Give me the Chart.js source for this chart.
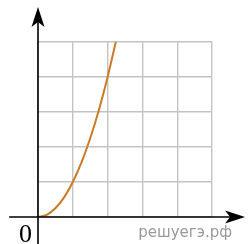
<!DOCTYPE html>
<html>
<head>
<meta charset="utf-8">
<script src="https://cdn.jsdelivr.net/npm/chart.js@4/dist/chart.umd.min.js"></script>
<style>
  html, body { margin: 0; padding: 0; background: #fff; }
  #wrap { width: 248px; height: 244px; position: relative; }
</style>
</head>
<body>
<div id="wrap"><canvas id="graph"></canvas></div>
<script>
// values (grid units)
const xValues = [0, 0.25, 0.5, 0.75, 1, 1.25, 1.5, 1.75, 2, 2.236];
const yValues = [0, 0.06, 0.25, 0.56, 1, 1.56, 2.25, 3.06, 4, 5];
const gridMax = 5;
const originLabel = '0';
const watermark = 'решуегэ.рф';

const points = xValues.map((x, i) => ({ x: x, y: yValues[i] }));

// axes with arrows + labels, positioned through the chart scales
const axesPlugin = {
    id: 'axes',
    afterDatasetsDraw(chart) {
        const ctx = chart.ctx;
        const xs = chart.scales.x, ys = chart.scales.y;
        const ox = xs.getPixelForValue(0), oy = ys.getPixelForValue(0);
        const xLeft = xs.getPixelForValue(-0.83), xTip = xs.getPixelForValue(5.95);
        const yBottom = ys.getPixelForValue(-0.8), yTip = ys.getPixelForValue(6.0);

        ctx.save();
        ctx.strokeStyle = '#000';
        ctx.fillStyle = '#000';
        ctx.lineWidth = 1.6;
        ctx.beginPath();
        ctx.moveTo(xLeft, oy); ctx.lineTo(xTip - 6, oy);
        ctx.moveTo(ox, yBottom); ctx.lineTo(ox, yTip + 6);
        ctx.stroke();

        // arrow heads
        ctx.beginPath();
        ctx.moveTo(xTip, oy);
        ctx.lineTo(xTip - 20, oy - 6.5);
        ctx.lineTo(xTip - 15, oy);
        ctx.lineTo(xTip - 20, oy + 6.5);
        ctx.closePath();
        ctx.fill();

        ctx.beginPath();
        ctx.moveTo(ox, yTip);
        ctx.lineTo(ox - 6.5, yTip + 20);
        ctx.lineTo(ox, yTip + 15);
        ctx.lineTo(ox + 6.5, yTip + 20);
        ctx.closePath();
        ctx.fill();

        ctx.font = '26px "Liberation Serif", serif';
        ctx.textAlign = 'right';
        ctx.textBaseline = 'alphabetic';
        ctx.fillText(originLabel, ox - 6, oy + 25);

        ctx.font = '15px "DejaVu Sans", sans-serif';
        ctx.fillStyle = '#9a9a9a';
        ctx.textAlign = 'right';
        ctx.fillText(watermark, 232, 237);
        ctx.restore();
    }
};

new Chart(document.getElementById('graph'), {
    type: 'line',
    data: {
        datasets: [{
            data: points,
            borderColor: '#cc7a28',
            borderWidth: 2,
            pointRadius: 0,
            fill: false,
            cubicInterpolationMode: 'monotone'
        }]
    },
    options: {
        responsive: true,
        maintainAspectRatio: false,
        animation: false,
        layout: { padding: { left: 38, right: 36, top: 42, bottom: 27 } },
        plugins: { legend: { display: false }, tooltip: { enabled: false } },
        scales: {
            x: {
                type: 'linear', min: 0, max: gridMax,
                ticks: { display: false, stepSize: 1 },
                grid: { color: '#c4c4c4', lineWidth: 1.4, drawTicks: false },
                border: { display: false }
            },
            y: {
                type: 'linear', min: 0, max: gridMax,
                ticks: { display: false, stepSize: 1 },
                grid: { color: '#c4c4c4', lineWidth: 1.4, drawTicks: false },
                border: { display: false }
            }
        }
    },
    plugins: [axesPlugin]
});
</script>
</body>
</html>
